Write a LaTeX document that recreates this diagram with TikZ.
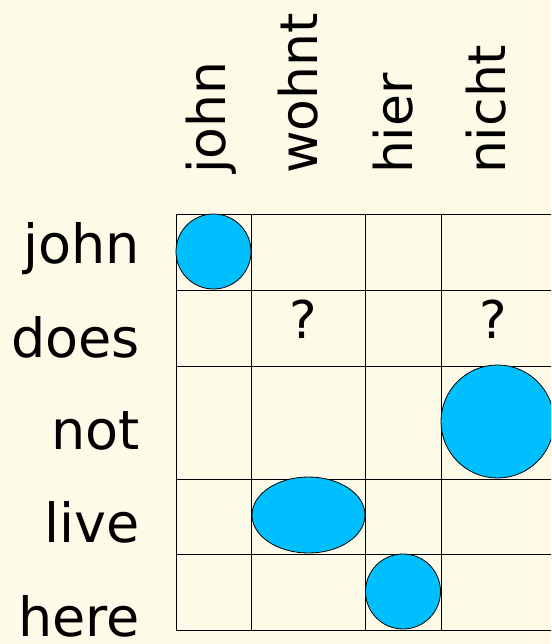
\documentclass[tikz,border=0pt]{standalone}
\usepackage{fontspec}
\setmainfont{DejaVu Sans}
\usetikzlibrary{shapes.geometric}
\definecolor{bgcol}{RGB}{253,250,232}
\definecolor{dotcol}{RGB}{0,191,255}
\tikzset{
  lbl/.style={inner sep=0pt, outer sep=0pt, font=\fontsize{52}{60}\selectfont},
  rowlbl/.style={inner sep=0pt, outer sep=0pt, font=\fontsize{54}{62}\selectfont, anchor=base east},
  collbl/.style={lbl, anchor=base west, rotate=90},
  gridline/.style={draw=black, line width=1pt},
  dot/.style={fill=dotcol, draw=black, line width=0.8pt, inner sep=0pt, outer sep=0pt}
}
\begin{document}
\begin{tikzpicture}[x=1pt, y=-1pt]
  \fill[bgcol] (0,0) rectangle (551,644);
  \useasboundingbox (0,0) rectangle (551,644);
  \begin{scope}
  \clip (0,0) rectangle (551,644);
  % grid
  \foreach \y in {214,290,366,479,554,630} \draw[gridline] (176,\y) -- (560,\y);
  \foreach \x in {176,251,365,441,554} \draw[gridline] (\x,214) -- (\x,630);
  % dots
  \node[dot, circle, minimum size=75pt] (d1) at (213.5,251.5) {};
  \node[dot, circle, minimum size=113pt] (d2) at (497.5,421.5) {};
  \node[dot, ellipse, minimum width=113pt, minimum height=76pt] (d3) at (308.5,515) {};
  \node[dot, circle, minimum size=75pt] (d4) at (403,591.5) {};
  \end{scope}
  % row labels
  \node[rowlbl] (r1) at (140,263) {john};
  \node[rowlbl] (r2) at (140,357) {does};
  \node[rowlbl] (r3) at (140,449) {not};
  \node[rowlbl] (r4) at (140,542) {live};
  \node[rowlbl] (r5) at (140,636) {here};
  % column labels
  \node[collbl] (c1) at (225,174) {john};
  \node[collbl] (c2) at (317,174) {wohnt};
  \node[collbl] (c3) at (412,174) {hier};
  \node[collbl] (c4) at (505,174) {nicht};
  % question marks
  \node[lbl, anchor=base] (q1) at (303,338) {?};
  \node[lbl, anchor=base] (q2) at (493,338) {?};
\end{tikzpicture}
\end{document}
